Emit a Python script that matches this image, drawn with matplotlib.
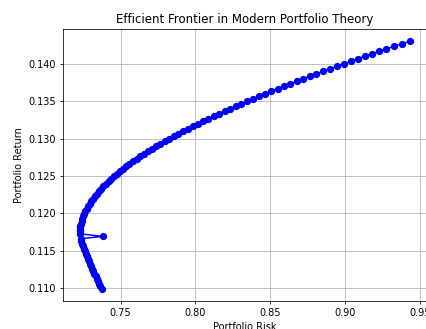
import matplotlib
matplotlib.use('Agg')
import matplotlib.pyplot as plt

# frontier points (risk = std dev, return = expected return)
# point 21 is the odd one that sticks out to the right of the curve
portfolio_returns = [
    0.109900, 0.110235, 0.110570, 0.110905, 0.111240, 0.111575, 0.111910, 0.112245, 0.112580, 0.112915,
    0.113250, 0.113585, 0.113920, 0.114255, 0.114590, 0.114925, 0.115260, 0.115595, 0.115930, 0.116265,
    0.116600, 0.116900, 0.117270, 0.117605, 0.117940, 0.118275, 0.118610, 0.118945, 0.119280, 0.119615,
    0.119950, 0.120285, 0.120620, 0.120955, 0.121290, 0.121625, 0.121960, 0.122295, 0.122630, 0.122965,
    0.123300, 0.123635, 0.123970, 0.124305, 0.124640, 0.124975, 0.125310, 0.125645, 0.125980, 0.126315,
    0.126650, 0.126985, 0.127320, 0.127655, 0.127990, 0.128325, 0.128660, 0.128995, 0.129330, 0.129665,
    0.130000, 0.130335, 0.130670, 0.131005, 0.131340, 0.131675, 0.132010, 0.132345, 0.132680, 0.133015,
    0.133350, 0.133685, 0.134020, 0.134355, 0.134690, 0.135025, 0.135360, 0.135695, 0.136030, 0.136365,
    0.136700, 0.137035, 0.137370, 0.137705, 0.138040, 0.138375, 0.138710, 0.139045, 0.139380, 0.139715,
    0.140050, 0.140385, 0.140720, 0.141055, 0.141390, 0.141725, 0.142060, 0.142395, 0.142730, 0.143065,
]
portfolio_risks = [
    0.7374, 0.7366, 0.7358, 0.7350, 0.7342, 0.7334, 0.7326, 0.7318, 0.7310, 0.7302,
    0.7294, 0.7287, 0.7281, 0.7275, 0.7269, 0.7263, 0.7257, 0.7251, 0.7245, 0.7239,
    0.7234, 0.7380, 0.7226, 0.7227, 0.7228, 0.7231, 0.7235, 0.7240, 0.7244, 0.7251,
    0.7258, 0.7265, 0.7274, 0.7283, 0.7293, 0.7304, 0.7316, 0.7328, 0.7341, 0.7356,
    0.7370, 0.7386, 0.7402, 0.7420, 0.7437, 0.7456, 0.7475, 0.7496, 0.7516, 0.7538,
    0.7560, 0.7583, 0.7607, 0.7631, 0.76561, 0.76825, 0.77097, 0.77375, 0.77660, 0.77952,
    0.78251, 0.78556, 0.78867, 0.79185, 0.79509, 0.79840, 0.80176, 0.80519, 0.80868, 0.81222,
    0.81583, 0.81949, 0.82321, 0.82699, 0.83082, 0.83470, 0.83865, 0.84264, 0.84669, 0.85078,
    0.85493, 0.85913, 0.86338, 0.86768, 0.87202, 0.87641, 0.88085, 0.88534, 0.88987, 0.89445,
    0.89906, 0.90373, 0.90843, 0.91318, 0.91797, 0.92279, 0.92766, 0.93280, 0.93780, 0.94310,
]

# figure is a scaled-down default mpl plot, so shrink everything ~0.7
s = 0.705
fig = plt.figure(figsize=(4.27, 3.29), dpi=100)
ax = fig.add_axes([63 / 427, 28 / 329, 363 / 427, 272 / 329])

ax.plot(portfolio_risks, portfolio_returns, 'o-', color='b',
        markersize=6 * s, linewidth=1.5 * s)

ax.set_title('Efficient Frontier in Modern Portfolio Theory', fontsize=12 * s, pad=6 * s)
ax.set_xlabel('Portfolio Risk', fontsize=10 * s, labelpad=4 * s)
ax.set_ylabel('Portfolio Return', fontsize=10 * s, labelpad=4 * s)
ax.tick_params(labelsize=10 * s, length=3.5 * s, width=0.8 * s, pad=3.5 * s)
for sp in ax.spines.values():
    sp.set_linewidth(0.8 * s)
ax.grid(True, linewidth=0.8 * s)

plt.savefig('out.png', dpi=100)
plt.close()
